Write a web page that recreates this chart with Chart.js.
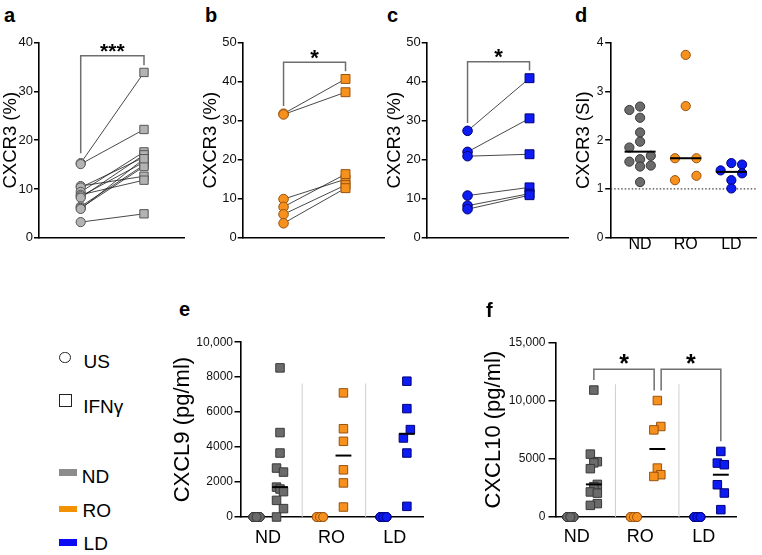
<!DOCTYPE html>
<html>
<head>
<meta charset="utf-8">
<script src="https://cdn.jsdelivr.net/npm/chart.js@4.4.1/dist/chart.umd.min.js"></script>
<style>
  body { margin: 0; background: #fff; }
  #lienzo { position: relative; width: 762px; height: 555px; overflow: hidden; font-family: 'Liberation Sans', Arial, sans-serif; color: #000; }
  canvas { position: absolute; }
  .letra { position: absolute; font-weight: bold; font-size: 20px; line-height: 20px; }
  .leyenda { position: absolute; font-size: 19px; line-height: 19px; white-space: nowrap; }
  .simbolo { position: absolute; box-sizing: border-box; }
</style>
</head>
<body>
<div id="lienzo">
  <canvas id="panelA"></canvas>
  <canvas id="panelB"></canvas>
  <canvas id="panelC"></canvas>
  <canvas id="panelD"></canvas>
  <canvas id="panelE"></canvas>
  <canvas id="panelF"></canvas>

  <!-- letras de los paneles -->
  <div class="letra" style="left:4px;top:5px">a</div>
  <div class="letra" style="left:205px;top:5px">b</div>
  <div class="letra" style="left:387px;top:5px">c</div>
  <div class="letra" style="left:575px;top:5px">d</div>
  <div class="letra" style="left:179px;top:299px">e</div>
  <div class="letra" style="left:486px;top:300px">f</div>

  <!-- leyenda -->
  <div class="simbolo" style="left:59.3px;top:351.7px;width:11.5px;height:11.5px;border:1.6px solid #222;border-radius:50%"></div>
  <div class="leyenda" style="left:83.5px;top:351.7px">US</div>
  <div class="simbolo" style="left:59.3px;top:394px;width:12.7px;height:12.7px;border:1.6px solid #222"></div>
  <div class="leyenda" style="left:83.2px;top:396.5px">IFNγ</div>
  <div class="simbolo" style="left:59.3px;top:469.3px;width:18px;height:6.7px;background:#8c8c8c"></div>
  <div class="leyenda" style="left:81.8px;top:467.4px">ND</div>
  <div class="simbolo" style="left:59.3px;top:505.7px;width:18px;height:6.3px;background:#f39200"></div>
  <div class="leyenda" style="left:82.5px;top:500.7px">RO</div>
  <div class="simbolo" style="left:59.3px;top:539.3px;width:18px;height:6.7px;background:#0a0af5"></div>
  <div class="leyenda" style="left:83.6px;top:534.4px">LD</div>
</div>

<script>
// --- 1. Datos ---

// Grupos (eje x de d, e, f)
const grupos = ['ND', 'RO', 'LD'];

// a-c: CXCR3 (%) pareado, sin estimular (US) -> IFNγ
const ndUS  = [15.3, 15.1, 10.6, 10.3, 9.4, 8.8, 8.5, 8.2, 6.4, 6.1, 5.9, 3.2];
const ndIFN = [33.9, 22.2, 12.6, 16.5, 17.6, 11.8, 15.5, 17.0, 14.9, 14.6, 16.2, 4.9];
const roUS  = [31.8, 31.6, 9.9, 7.9, 6.0, 3.7];
const roIFN = [40.7, 37.3, 15.0, 16.3, 13.5, 12.7];
const ldUS  = [27.4, 22.0, 20.9, 10.8, 8.2, 7.3];
const ldIFN = [40.9, 30.6, 21.4, 12.9, 11.3, 10.9];

// d: CXCR3 (SI)
const ndSI = [2.69, 2.62, 2.46, 2.16, 1.97, 1.85, 1.68, 1.61, 1.56, 1.48, 1.46, 1.14];
const roSI = [3.75, 2.70, 1.63, 1.63, 1.27, 1.18];
const ldSI = [1.53, 1.50, 1.38, 1.32, 1.18, 1.01];

// e: CXCL9 (pg/ml)
const ndCXCL9US = [0, 0, 0, 0, 0, 0, 0, 0, 0, 0, 0];
const ndCXCL9   = [8530, 4830, 3660, 2800, 2570, 1710, 1600, 1450, 950, 480, 0];
const roCXCL9US = [0, 0, 0, 0, 0, 0];
const roCXCL9   = [7100, 5050, 4330, 2700, 1950, 570];
const ldCXCL9US = [0, 0, 0, 0, 0, 0];
const ldCXCL9   = [7770, 6200, 5000, 4520, 3660, 610];

// f: CXCL10 (pg/ml)
const ndCXCL10US = [0, 0, 0, 0, 0, 0, 0, 0, 0, 0, 0];
const ndCXCL10   = [10900, 5400, 4750, 4650, 4150, 2800, 2600, 2150, 2050, 1150, 1000];
const roCXCL10US = [0, 0, 0, 0, 0, 0];
const roCXCL10   = [10000, 7770, 7480, 4200, 3630, 3480];
const ldCXCL10US = [0, 0, 0, 0, 0, 0];
const ldCXCL10   = [5630, 4630, 4490, 2770, 2060, 630];

// Marcas de los ejes y
const ticksPct   = [0, 10, 20, 30, 40];
const ticksPct50 = [0, 10, 20, 30, 40, 50];
const ticksSI    = [0, 1, 2, 3, 4];
const ticksCXCL9 = [0, 2000, 4000, 6000, 8000, 10000];
const textoCXCL9 = ['0', '2000', '4000', '6000', '8000', '10,000'];
const ticksCXCL10 = [0, 5000, 10000, 15000];
const textoCXCL10 = ['0', '5000', '10,000', '15,000'];

// --- 2. Disposición (columnas del enjambre: -1 izq, 0 centro, 1 der) ---
const colSI_ND = [0, -1, 0, 0, 0, -1, 1, 0, -1, 1, 0, 0];
const colSI_RO = [0, 0, -1, 1, 1, -1];
const colSI_LD = [0, 1, -1, 1, 0, 0];
const colUS11 = [-1, 0, 1, -1, 0, 1, -1, 0, 1, -1, 0];
const colUS6  = [-1, 0, 1, -1, 0, 1];
const colE_ND = [0, 0, 0, -1, 1, -1, 0, 1, -1, 1, -1];
const colE_RO = [0, 0, 0, 0, 0, 0];
const colE_LD = [0, 0, 1, -1, 0, 0];
const colF_ND = [0, -1, 1, 0, -1, 1, 0, -1, 1, 1, -1];
const colF_RO = [0, 1, -1, 0, 1, -1];
const colF_LD = [0, -1, 1, -1, 1, 0];

// Colores
const GRIS_CLARO = '#b3b3b3', GRIS_CLARO_B = '#555555';
const GRIS = '#6b6b6b', GRIS_B = '#383838';
const NARANJA = '#f7911d', NARANJA_B = '#99520f';
const AZUL = '#0c1cf2', AZUL_B = '#00007a';
const FUENTE = "'Liberation Sans', Arial, sans-serif";

Chart.defaults.font.family = FUENTE;
Chart.defaults.color = '#000';

// --- 3. Utilidades ---
function puntos(vals, x0, cols, paso) {
  return vals.map((v, i) => ({ x: x0 + (cols ? cols[i] * paso : 0), y: v }));
}

function mediana(a) {
  const s = [...a].sort((p, q) => p - q);
  const m = s.length >> 1;
  return s.length % 2 ? s[m] : (s[m - 1] + s[m]) / 2;
}

function marcas(data, estilo, r, relleno, borde, order = 1) {
  return {
    data, pointStyle: estilo, pointRadius: r, pointHoverRadius: r,
    pointBackgroundColor: relleno, pointBorderColor: borde, pointBorderWidth: 1,
    showLine: false, clip: false, order
  };
}

function linea(data, color, ancho, guion, order = 2) {
  return {
    data, showLine: true, pointRadius: 0, pointHoverRadius: 0,
    borderColor: color, borderWidth: ancho, borderDash: guion || [],
    fill: false, tension: 0, clip: false, order
  };
}

// corchete de significancia entre x1 y x2 (en unidades de datos)
function corchete(x1, base1, x2, base2, tope) {
  return linea([{ x: x1, y: base1 }, { x: x1, y: tope }, { x: x2, y: tope }, { x: x2, y: base2 }], '#6e6e6e', 1.5, [], 3);
}

function lineaMediana(vals, xc, medio) {
  const m = mediana(vals);
  return linea([{ x: xc - medio, y: m }, { x: xc + medio, y: m }], '#000', 2, [], 0);
}

// texto de asteriscos en coordenadas de datos
function pluginEstrellas(lista) {
  return {
    id: 'estrellas',
    afterDatasetsDraw(chart) {
      const { ctx, scales: { x, y } } = chart;
      ctx.save();
      ctx.fillStyle = '#000';
      ctx.textAlign = 'center';
      ctx.textBaseline = 'alphabetic';
      lista.forEach(m => {
        ctx.font = `bold ${m.size}px ${FUENTE}`;
        ctx.fillText(m.text, x.getPixelForValue(m.x), y.getPixelForValue(m.y) + 0.57 * m.size);
      });
      ctx.restore();
    }
  };
}

// Crea un panel con el área de trazado en una posición fija de la página
function dibujarPanel(id, caja, area, conf) {
  const cv = document.getElementById(id);
  cv.width = caja.w;
  cv.height = caja.h;
  cv.style.left = caja.x + 'px';
  cv.style.top = caja.y + 'px';
  cv.style.width = caja.w + 'px';
  cv.style.height = caja.h + 'px';

  return new Chart(cv, {
    type: 'scatter',
    data: { datasets: conf.datasets },
    options: {
      responsive: false,
      animation: false,
      events: [],
      layout: { padding: { left: 0, top: area.t - caja.y, right: caja.x + caja.w - area.r, bottom: 0 } },
      plugins: { legend: { display: false }, tooltip: { enabled: false } },
      scales: {
        x: {
          type: 'linear', min: conf.xMin, max: conf.xMax,
          afterFit: s => { s.height = caja.y + caja.h - area.b; },
          afterBuildTicks: s => { if (conf.xTicks) s.ticks = conf.xTicks.map(v => ({ value: v })); },
          grid: { display: false, drawTicks: false },
          border: { display: true, color: '#000', width: 1.6 },
          ticks: {
            display: !!conf.xTicks, autoSkip: false, maxRotation: 0, minRotation: 0,
            padding: conf.xPad || 0, color: '#000',
            font: { size: conf.xFont || 16, lineHeight: 1 },
            callback: v => grupos[Math.round(v) - 1]
          }
        },
        y: {
          type: 'linear', min: conf.yMin, max: conf.yMax,
          afterFit: s => { s.width = area.l - caja.x; },
          afterBuildTicks: s => { s.ticks = conf.yTicks.map(v => ({ value: v })); },
          grid: { drawOnChartArea: false, drawTicks: true, tickLength: conf.tickLen, color: '#000', lineWidth: 1.5 },
          border: { display: true, color: '#000', width: 1.6 },
          ticks: {
            padding: conf.yPad, color: '#111', font: { size: conf.yFont },
            callback: (v, i) => conf.yTexto[i]
          },
          title: {
            display: true, text: conf.titulo, color: '#000',
            font: { size: conf.tFont }, padding: { top: conf.tPad, bottom: 0 }
          }
        }
      }
    },
    plugins: [pluginEstrellas(conf.estrellas || [])]
  });
}

// Paneles pareados a-c
function pareados(us, ifn, relleno, borde, rC, rS) {
  const ds = [marcas(puntos(us, 1), 'circle', rC, relleno, borde), marcas(puntos(ifn, 2), 'rect', rS, relleno, borde)];
  us.forEach((v, i) => ds.push(linea([{ x: 1, y: v }, { x: 2, y: ifn[i] }], '#1a1a1a', 0.8)));
  return ds;
}

// --- 4. Dibujar ---
const GAP_PCT = 2;

// a
dibujarPanel('panelA', { x: 0, y: 30, w: 192, h: 225 }, { l: 39, t: 42.7, r: 184, b: 237.7 }, {
  xMin: 0.341, xMax: 2.632, yMin: 0, yMax: 40,
  yTicks: ticksPct, yTexto: ticksPct.map(String), yFont: 13, yPad: 1, tickLen: 5,
  titulo: 'CXCR3 (%)', tFont: 18.5, tPad: 0,
  datasets: [
    ...pareados(ndUS, ndIFN, GRIS_CLARO, GRIS_CLARO_B, 4.6, 5.9),
    corchete(1, Math.max(...ndUS) + GAP_PCT, 2, Math.max(...ndIFN) + 1.5, 37.3)
  ],
  estrellas: [{ x: 1.5, y: 39.4, text: '***', size: 21 }]
});

// b
dibujarPanel('panelB', { x: 196, y: 30, w: 196, h: 225 }, { l: 242.7, t: 42.7, r: 387.7, b: 237.7 }, {
  xMin: 0.341, xMax: 2.632, yMin: 0, yMax: 50,
  yTicks: ticksPct50, yTexto: ticksPct50.map(String), yFont: 13, yPad: 1, tickLen: 5,
  titulo: 'CXCR3 (%)', tFont: 18.5, tPad: 3.9,
  datasets: [
    ...pareados(roUS, roIFN, NARANJA, NARANJA_B, 4.8, 6.3),
    corchete(1, Math.max(...roUS) + GAP_PCT, 2, Math.max(...roIFN) + GAP_PCT, 45)
  ],
  estrellas: [{ x: 1.5, y: 47.5, text: '*', size: 22 }]
});

// c
dibujarPanel('panelC', { x: 381, y: 30, w: 195, h: 225 }, { l: 426.7, t: 42.7, r: 571.7, b: 237.7 }, {
  xMin: 0.341, xMax: 2.632, yMin: 0, yMax: 50,
  yTicks: ticksPct50, yTexto: ticksPct50.map(String), yFont: 13, yPad: 1, tickLen: 5,
  titulo: 'CXCR3 (%)', tFont: 18.5, tPad: 2.9,
  datasets: [
    ...pareados(ldUS, ldIFN, AZUL, AZUL_B, 4.8, 6.3),
    corchete(1, Math.max(...ldUS) + GAP_PCT, 2, Math.max(...ldIFN) + GAP_PCT, 45.1)
  ],
  estrellas: [{ x: 1.5, y: 47.7, text: '*', size: 22 }]
});

// d
const D_MIN = 0.356, D_MAX = 3.54, PASO_SI = 0.235, MED_D = 0.34;
dibujarPanel('panelD', { x: 572, y: 30, w: 190, h: 230 }, { l: 610.7, t: 42.7, r: 756, b: 237.7 }, {
  xMin: D_MIN, xMax: D_MAX, xTicks: [1, 2, 3], xFont: 16, xPad: -0.7,
  yMin: 0, yMax: 4,
  yTicks: ticksSI, yTexto: ticksSI.map(String), yFont: 12, yPad: 1.7, tickLen: 5.5,
  titulo: 'CXCR3 (SI)', tFont: 18.5, tPad: 0.9,
  datasets: [
    lineaMediana(ndSI, 1, MED_D), lineaMediana(roSI, 2, MED_D), lineaMediana(ldSI, 3, MED_D),
    marcas(puntos(ndSI, 1, colSI_ND, PASO_SI), 'circle', 4.6, GRIS, GRIS_B),
    marcas(puntos(roSI, 2, colSI_RO, PASO_SI), 'circle', 4.6, NARANJA, NARANJA_B),
    marcas(puntos(ldSI, 3, colSI_LD, PASO_SI), 'circle', 4.6, AZUL, AZUL_B),
    linea([{ x: D_MIN, y: 1 }, { x: D_MAX, y: 1 }], '#444', 1.2, [1.5, 2], 3)
  ]
});

// e y f: columnas US (círculos) e IFNγ (cuadrados) dentro de cada grupo
function panelCitocina(usSets, ifnSets, colsIfn, offUS, offIFN, sepX, sepTop, cols) {
  const ds = [];
  const colores = [[GRIS, GRIS_B], [NARANJA, NARANJA_B], [AZUL, AZUL_B]];
  ifnSets.forEach((vals, g) => ds.push(lineaMediana(vals, g + 1 + offIFN, 0.125)));
  usSets.forEach((vals, g) => ds.push(marcas(puntos(vals, g + 1 + offUS, cols[g], 0.05), 'circle', 4.5, colores[g][0], colores[g][1])));
  ifnSets.forEach((vals, g) => ds.push(marcas(puntos(vals, g + 1 + offIFN, colsIfn[g], 0.055), 'rect', 6, colores[g][0], colores[g][1])));
  sepX.forEach(x => ds.push(linea([{ x, y: 0 }, { x, y: sepTop }], '#cfcfcf', 1, [], 4)));
  return ds;
}

// e
dibujarPanel('panelE', { x: 160, y: 320, w: 272, h: 235 }, { l: 240.5, t: 342.2, r: 423.3, b: 517 }, {
  xMin: 0.567, xMax: 3.449, xTicks: [1, 2, 3], xFont: 18, xPad: 12.3,
  yMin: 0, yMax: 10000,
  yTicks: ticksCXCL9, yTexto: textoCXCL9, yFont: 12, yPad: 1.5, tickLen: 6,
  titulo: 'CXCL9 (pg/ml)', tFont: 22, tPad: 9.3,
  datasets: panelCitocina(
    [ndCXCL9US, roCXCL9US, ldCXCL9US], [ndCXCL9, roCXCL9, ldCXCL9],
    [colE_ND, colE_RO, colE_LD], -0.18, 0.19, [1.54, 2.54], 7640,
    [colUS11, colUS6, colUS6])
});

// f
const F_US = -0.1, F_IFN = 0.27, F_GAP = 870, F_TOPE = 12690;
const fND = 1 + F_IFN, fRO = 2 + F_IFN, fLD = 3 + F_IFN;
dibujarPanel('panelF', { x: 470, y: 320, w: 292, h: 235 }, { l: 555.5, t: 342.3, r: 736.7, b: 517 }, {
  xMin: 0.666, xMax: 3.52, xTicks: [1, 2, 3], xFont: 18, xPad: 11.5,
  yMin: 0, yMax: 15000,
  yTicks: ticksCXCL10, yTexto: textoCXCL10, yFont: 12, yPad: 3, tickLen: 7,
  titulo: 'CXCL10 (pg/ml)', tFont: 22, tPad: 10.8,
  datasets: [
    ...panelCitocina(
      [ndCXCL10US, roCXCL10US, ldCXCL10US], [ndCXCL10, roCXCL10, ldCXCL10],
      [colF_ND, colF_RO, colF_LD], F_US, F_IFN, [1.61, 2.61], 11400,
      [colUS11, colUS6, colUS6]),
    corchete(fND, Math.max(...ndCXCL10) + F_GAP, fRO - 0.05, Math.max(...roCXCL10) + F_GAP, F_TOPE),
    corchete(fRO + 0.06, Math.max(...roCXCL10) + F_GAP, fLD, Math.max(...ldCXCL10) + F_GAP, F_TOPE)
  ],
  estrellas: [
    { x: (fND + fRO - 0.05) / 2, y: 13650, text: '*', size: 25 },
    { x: (fRO + 0.06 + fLD) / 2, y: 13650, text: '*', size: 25 }
  ]
});
</script>
</body>
</html>
